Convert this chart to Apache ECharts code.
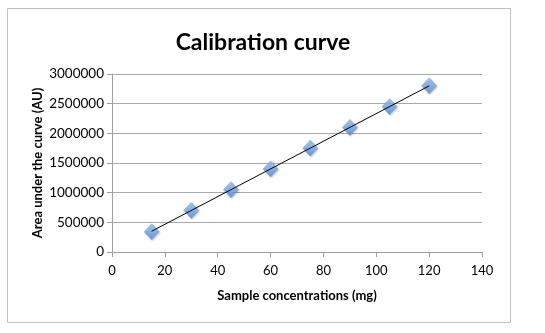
<!DOCTYPE html>
<html><head><meta charset="utf-8">
<script src="https://cdn.jsdelivr.net/npm/echarts@6/dist/echarts.min.js"></script>
<style>html,body{margin:0;padding:0;background:#fff}#c{width:545px;height:333px}</style>
</head><body><div id="c"></div>
<script>
const concentrations = [15, 30, 45, 60, 75, 90, 105, 120];
const areas = [340000, 700000, 1050000, 1400000, 1750000, 2100000, 2450000, 2800000];
const trendX = [15, 120];
const trendY = [350000, 2800000];
const chart = echarts.init(document.getElementById('c'));
const font = 'Lato, "Open Sans", sans-serif';
chart.setOption({
  animation: false,
  title: {text: 'Calibration curve', left: 258, top: 26, textAlign: 'center',
    textStyle: {fontFamily: font, fontSize: 23, fontWeight: 'bold', color: '#000'}},
  graphic: [{type: 'rect', shape: {x: 7.5, y: 8.5, width: 503, height: 314},
    style: {fill: 'none', stroke: '#c0c0c0', lineWidth: 1}, silent: true}],
  grid: {left: 112, right: 63, top: 74, bottom: 81},
  xAxis: {type: 'value', min: 0, max: 140, interval: 20,
    name: 'Sample concentrations (mg)', nameLocation: 'middle', nameGap: 37,
    nameTextStyle: {fontFamily: font, fontSize: 13, fontWeight: 'bold', color: '#000'},
    axisLine: {show: true, lineStyle: {color: '#a0a0a0'}},
    axisTick: {show: true, length: 5, lineStyle: {color: '#a0a0a0'}},
    axisLabel: {fontFamily: font, fontSize: 13, color: '#000', margin: 12},
    splitLine: {show: false}},
  yAxis: {type: 'value', min: 0, max: 3000000, interval: 500000,
    name: 'Area under the curve (AU)', nameLocation: 'middle', nameGap: 68, nameRotate: 90,
    nameMoveOverlap: false,
    nameTextStyle: {fontFamily: font, fontSize: 13, fontWeight: 'bold', color: '#000'},
    axisLine: {show: true, lineStyle: {color: '#a0a0a0'}},
    axisTick: {show: true, length: 5, lineStyle: {color: '#a0a0a0'}},
    axisLabel: {fontFamily: font, fontSize: 13.5, color: '#000', margin: 8, formatter: v => String(v)},
    splitLine: {show: true, lineStyle: {color: '#a8a8a8', width: 1}}},
  series: [
    {type: 'line', data: trendX.map((x, i) => [x, trendY[i]]), symbol: 'none',
      lineStyle: {color: '#000', width: 1}, z: 3},
    {type: 'scatter', data: concentrations.map((x, i) => [x, areas[i]]),
      symbol: 'diamond', symbolSize: [15, 16],
      itemStyle: {color: new echarts.graphic.LinearGradient(0, 0, 0, 1, [
        {offset: 0, color: '#9cc2f0'}, {offset: 1, color: '#5089d6'}]),
        borderColor: '#5a8bcc', borderWidth: 0.5,
        shadowColor: 'rgba(0,0,0,0.25)', shadowBlur: 2, shadowOffsetX: 1, shadowOffsetY: 1}, z: 2}
  ]
});
</script></body></html>
